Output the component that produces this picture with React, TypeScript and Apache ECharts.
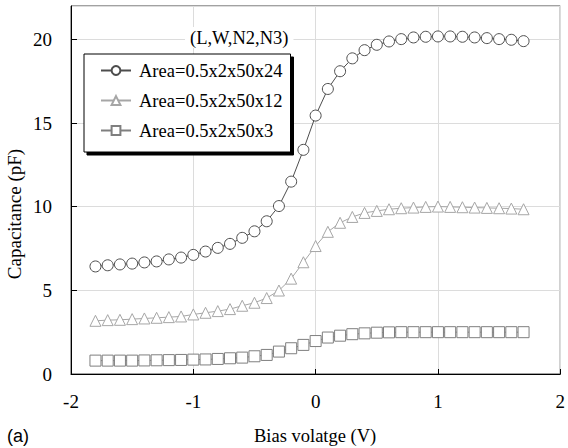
import React, { useEffect, useRef } from "react";
import * as echarts from "echarts";

const volts = [-1.8, -1.7, -1.6, -1.5, -1.4, -1.3, -1.2, -1.1, -1.0, -0.9, -0.8, -0.7, -0.6, -0.5, -0.4, -0.3, -0.2, -0.1, 0.0, 0.1, 0.2, 0.3, 0.4, 0.5, 0.6, 0.7, 0.8, 0.9, 1.0, 1.1, 1.2, 1.3, 1.4, 1.5, 1.6, 1.7];

const cap24 = [6.43, 6.5, 6.55, 6.6, 6.67, 6.73, 6.85, 6.96, 7.12, 7.32, 7.54, 7.78, 8.14, 8.53, 9.13, 10.04, 11.5, 13.4, 15.45, 17.04, 18.1, 18.87, 19.36, 19.68, 19.88, 20.02, 20.12, 20.16, 20.18, 20.18, 20.16, 20.12, 20.08, 20.02, 19.98, 19.9];

const cap12 = [3.18, 3.22, 3.24, 3.28, 3.32, 3.36, 3.4, 3.44, 3.56, 3.66, 3.76, 3.88, 4.08, 4.26, 4.54, 4.99, 5.7, 6.68, 7.65, 8.5, 9.04, 9.39, 9.63, 9.75, 9.85, 9.91, 9.95, 9.99, 10.01, 9.99, 9.97, 9.95, 9.93, 9.91, 9.89, 9.85];

const cap3 = [0.8, 0.8, 0.8, 0.8, 0.81, 0.82, 0.83, 0.84, 0.86, 0.87, 0.9, 0.94, 0.98, 1.06, 1.14, 1.34, 1.54, 1.74, 1.97, 2.18, 2.29, 2.38, 2.43, 2.47, 2.49, 2.5, 2.5, 2.5, 2.5, 2.5, 2.5, 2.5, 2.5, 2.5, 2.5, 2.5];

const seriesNames = ["Area=0.5x2x50x24", "Area=0.5x2x50x12", "Area=0.5x2x50x3"];
const legendTitle = "(L,W,N2,N3)";
const xTitle = "Bias volatge (V)";
const yTitle = "Capacitance (pF)";
const panelLabel = "(a)";

const SERIF = "Liberation Serif";
const SANS = "Liberation Sans";

export default function App() {
  const ref = useRef<HTMLDivElement>(null);
  useEffect(() => {
    if (!ref.current) return;
    const chart = echarts.init(ref.current, undefined, { renderer: "svg" });
    const mk = (vals: number[]) => vals.map((v, i) => [volts[i], v]);
    const styles = [
      { color: "#4d4d4d", symbol: "circle" },
      { color: "#a6a6a6", symbol: "triangle" },
      { color: "#7f7f7f", symbol: "rect" },
    ];
    const datasets = [cap24, cap12, cap3];
    chart.setOption({
      animation: false,
      backgroundColor: "#fff",
      grid: {
        left: 71,
        right: 3,
        top: 6,
        bottom: 74,
        show: true,
        borderColor: "#444",
        borderWidth: 1,
        backgroundColor: "transparent",
      },
      title: {
        text: legendTitle,
        left: 185,
        top: 27,
        padding: [1, 5, 1, 5],
        backgroundColor: "#fff",
        textStyle: { fontFamily: SERIF, fontSize: 18.5, fontWeight: "normal", color: "#000" },
      },
      legend: {
        orient: "vertical",
        left: 84,
        top: 54,
        width: 207,
        padding: [7, 8, 12, 16],
        itemWidth: 30,
        itemHeight: 11,
        itemGap: 11,
        backgroundColor: "#fff",
        borderColor: "#000",
        borderWidth: 1,
        shadowColor: "#000",
        shadowBlur: 0,
        shadowOffsetX: 3,
        shadowOffsetY: 3,
        textStyle: { fontFamily: SERIF, fontSize: 18.5, color: "#000", padding: [0, 0, 0, 3] },
        data: seriesNames,
      },
      xAxis: {
        type: "value",
        min: -2,
        max: 2,
        interval: 1,
        axisLine: { show: true, onZero: false, lineStyle: { color: "#000", width: 1 } },
        axisTick: { show: true, inside: true, length: 5, lineStyle: { color: "#000" } },
        axisLabel: { fontFamily: SERIF, fontSize: 19, color: "#000", margin: 18 },
        splitLine: { show: true, lineStyle: { color: "#dcdcdc", width: 1 } },
      },
      yAxis: {
        type: "value",
        min: 0,
        max: 22,
        interval: 5,
        axisLine: { show: true, onZero: false, lineStyle: { color: "#000", width: 1 } },
        axisTick: { show: true, inside: true, length: 6, lineStyle: { color: "#000" } },
        axisLabel: { fontFamily: SERIF, fontSize: 19, color: "#000", margin: 19, showMaxLabel: false },
        splitLine: { show: true, lineStyle: { color: "#dcdcdc", width: 1 } },
      },
      graphic: [
        {
          type: "text",
          left: 254,
          top: 426,
          style: { text: xTitle, fontFamily: SERIF, fontSize: 18.5, fill: "#000" },
        },
        {
          type: "text",
          x: 5,
          y: 214,
          rotation: Math.PI / 2,
          style: { text: yTitle, fontFamily: SERIF, fontSize: 19, fill: "#000", align: "center", verticalAlign: "top" },
        },
        {
          type: "text",
          left: 7,
          top: 427,
          style: { text: panelLabel, fontFamily: SANS, fontSize: 18, fill: "#000" },
        },
      ],
      series: datasets.map((vals, i) => ({
        name: seriesNames[i],
        type: "line",
        data: mk(vals),
        symbol: styles[i].symbol,
        symbolSize: 11,
        showAllSymbol: true,
        lineStyle: { color: styles[i].color, width: 1 },
        itemStyle: { color: "#fff", borderColor: styles[i].color, borderWidth: 1 },
        z: 3 - i + 2,
      })),
    });
    return () => chart.dispose();
  }, []);
  return <div ref={ref} style={{ width: 568, height: 448, position: "absolute", left: 0, top: 0 }} />;
}
